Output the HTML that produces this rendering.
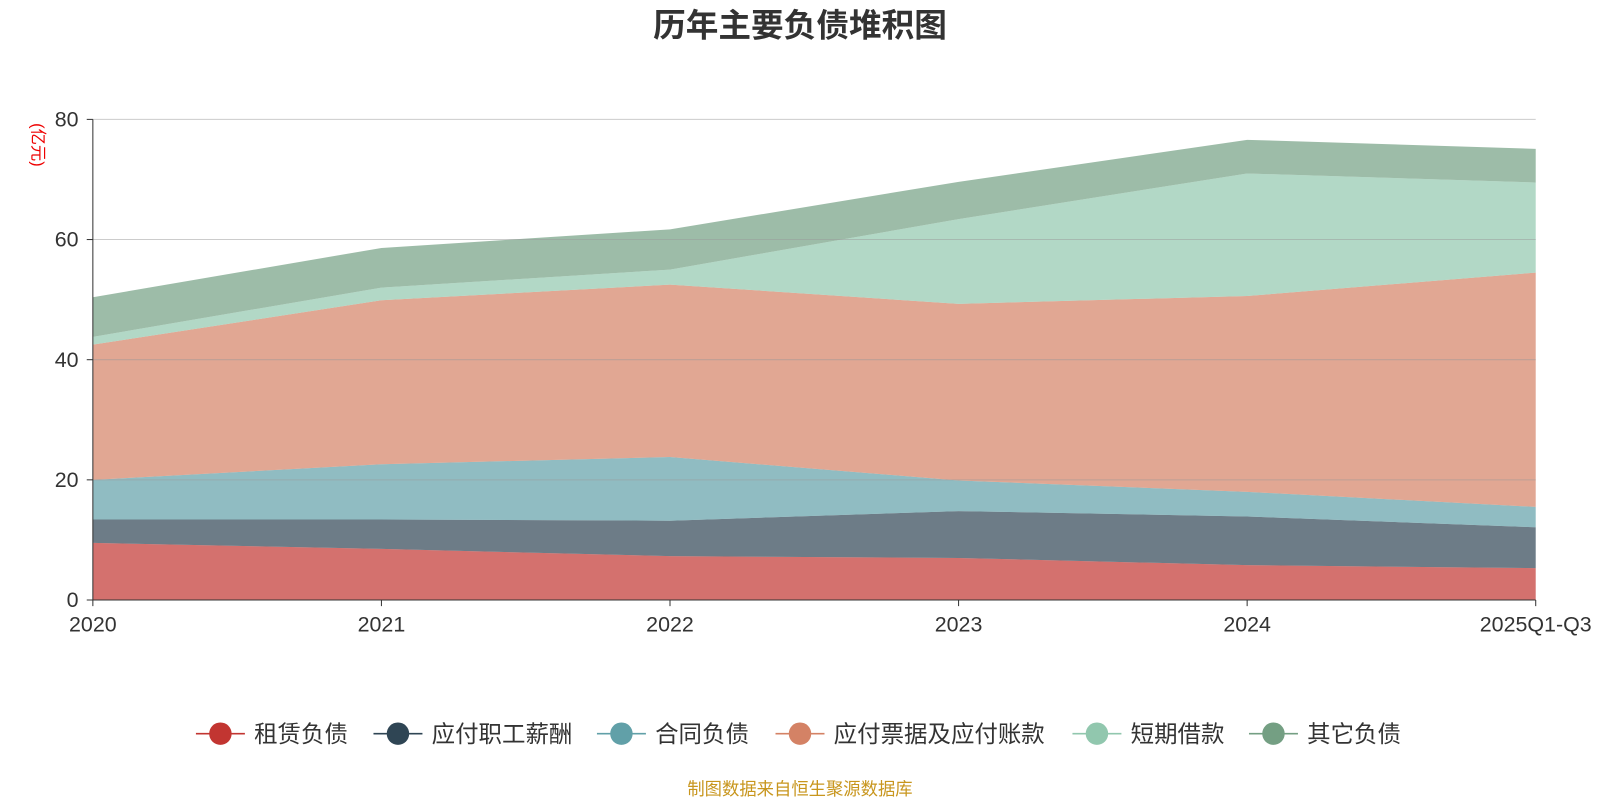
<!DOCTYPE html>
<html><head><meta charset="utf-8"><style>
html,body{margin:0;padding:0;background:#fff;width:1600px;height:800px;overflow:hidden}
svg{display:block}
text{font-family:"Liberation Sans","Noto Sans CJK SC",sans-serif}
</style></head><body>
<svg id="chart" width="1600" height="800" viewBox="0 0 1568 784">
<text x="784" y="36" text-anchor="middle" font-size="32" font-weight="bold" fill="#333">历年主要负债堆积图</text>
<text transform="translate(32,142) rotate(90)" text-anchor="middle" font-size="16" fill="#e00">(亿元)</text>
<g id="areas"></g><g id="grid"></g><g id="axes"></g><g id="legend"></g>
<text x="784" y="779" text-anchor="middle" font-size="17" fill="#c8961e">制图数据来自恒生聚源数据库</text>
</svg>
<script>
const categories=["2020","2021","2022","2023","2024","2025Q1-Q3"];
const seriesNames=["租赁负债","应付职工薪酬","合同负债","应付票据及应付账款","短期借款","其它负债"];
const lease=[9.5,8.5,7.3,7.0,5.8,5.3];
const payroll=[3.9,4.9,5.9,7.8,8.1,6.8];
const contract=[6.6,9.2,10.6,5.1,4.1,3.4];
const payables=[22.5,27.3,28.7,29.4,32.6,39.0];
const shortLoans=[1.3,2.1,2.5,14.1,20.4,15.0];
const others=[6.6,6.6,6.7,6.2,5.6,5.6];
const yTicks=[0,20,40,60,80];
const colors=["#c23531","#2f4554","#61a0a8","#d48265","#91c7ae","#749f83"];
const series=[lease,payroll,contract,payables,shortLoans,others];
const NS="http://www.w3.org/2000/svg";
const x0=91,x1=1505,yB=588,yT=117;
const xs=i=>x0+(x1-x0)*i/(categories.length-1);
const ys=v=>yB-(yB-yT)*v/80;
function mk(t,a,p){const e=document.createElementNS(NS,t);for(const k in a)e.setAttribute(k,a[k]);p.appendChild(e);return e;}
const areas=document.getElementById('areas');
let base=categories.map(()=>0);
series.forEach((s,si)=>{
  const top=base.map((b,i)=>b+s[i]);
  let d="";
  top.forEach((v,i)=>{d+=(i?"L":"M")+xs(i)+","+ys(v);});
  for(let i=base.length-1;i>=0;i--)d+="L"+xs(i)+","+ys(base[i]);
  const p=mk('path',{d:d+"Z",fill:colors[si],'fill-opacity':0.7,stroke:'none'},areas);
  
  
  base=top;
});
const grid=document.getElementById('grid'),axes=document.getElementById('axes');
yTicks.forEach(t=>{
  if(t>0){const l=mk('line',{x1:x0,x2:x1,y1:ys(t),y2:ys(t),stroke:'#999','stroke-opacity':0.5,'stroke-width':1},grid);
  
  }
  mk('line',{x1:x0-6,x2:x0,y1:ys(t),y2:ys(t),stroke:'#333'},axes);
  const tx=mk('text',{x:x0-14,y:ys(t)+7,'text-anchor':'end','font-size':21,fill:'#333'},axes);
  tx.textContent=t;
  
  
});
mk('line',{x1:x0,x2:x0,y1:yT,y2:yB,stroke:'#333'},axes);
mk('line',{x1:x0,x2:x1,y1:yB,y2:yB,stroke:'#333'},axes);
categories.forEach((c,i)=>{
  mk('line',{x1:xs(i),x2:xs(i),y1:yB,y2:yB+6,stroke:'#333'},axes);
  const tx=mk('text',{x:xs(i),y:yB+31,'text-anchor':'middle','font-size':21,fill:'#333'},axes);
  tx.textContent=c;
  
  
});
const lg=document.getElementById('legend');
const lx=[192,366,585,760,1051,1224];
seriesNames.forEach((n,i)=>{
  const g=mk('g',{},lg);
  
  
  mk('line',{x1:lx[i],x2:lx[i]+48,y1:719,y2:719,stroke:colors[i],'stroke-width':1.5},g);
  mk('circle',{cx:lx[i]+24,cy:719,r:11,fill:colors[i]},g);
  const t=mk('text',{x:lx[i]+57,y:727,'font-size':23,fill:'#333'},g);
  t.textContent=n;
});
</script>
</body></html>
